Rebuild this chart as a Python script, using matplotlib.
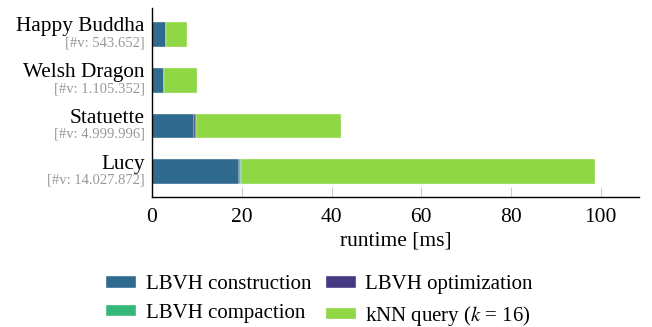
import matplotlib
matplotlib.use('Agg')
import matplotlib.pyplot as plt
import matplotlib.transforms as mtransforms

plt.rcParams['font.family'] = ['Liberation Serif', 'DejaVu Serif']
plt.rcParams['mathtext.fontset'] = 'stix'

# data
models = ['Happy Buddha', 'Welsh Dragon', 'Statuette', 'Lucy']
vertices = ['[#v: 543.652]', '[#v: 1.105.352]', '[#v: 4.999.996]', '[#v: 14.027.872]']
construction = [3.1, 2.6, 9.4, 19.3]
optimization = [0.05, 0.05, 0.3, 0.3]
compaction = [0.05, 0.05, 0.2, 0.2]
knn = [4.5, 7.4, 32.2, 79.0]

series_names = ['LBVH construction', 'LBVH optimization', 'LBVH compaction', r'kNN query ($k$ = 16)']
colors = ['#306a8e', '#443983', '#35b779', '#8fd744']

fig = plt.figure(figsize=(6.52, 3.27), dpi=100)
ax = fig.add_axes([152 / 652, 1 - 197 / 327, (639 - 152) / 652, (197 - 8) / 327])

ypos = [3, 2, 1, 0]
left = [0] * len(models)
bars = []
for vals, name, c in zip([construction, optimization, compaction, knn], series_names, colors):
    b = ax.barh(ypos, vals, left=left, height=0.54, color=c, label=name,
                edgecolor='#f4f4f4', linewidth=0.3)
    bars.append(b)
    left = [l + v for l, v in zip(left, vals)]

ax.set_xlim(0, 108.5)
ax.set_ylim(-0.55, 3.58)
ax.set_xticks([0, 20, 40, 60, 80, 100])
ax.set_yticks([])
ax.tick_params(axis='x', direction='in', length=7, color='#cccccc', labelsize=15.5, pad=8)
for s in ['top', 'right']:
    ax.spines[s].set_visible(False)
ax.spines['left'].set_linewidth(1.0)
ax.spines['bottom'].set_linewidth(1.0)
ax.set_xlabel('runtime [ms]', fontsize=15.5, labelpad=3)

# two-line category labels
trans = mtransforms.blended_transform_factory(ax.transAxes, ax.transData)
for y, m, v in zip(ypos, models, vertices):
    ax.text(-0.015, y + 0.17, m, transform=trans, ha='right', va='center', fontsize=15.3)
    ax.text(-0.015, y - 0.18, v, transform=trans, ha='right', va='center', fontsize=10.5,
            color='#999999')

# legend filled by columns: row 1 construction/optimization, row 2 compaction/kNN
order = [0, 2, 1, 3]
fig.legend([bars[i] for i in order], [series_names[i] for i in order],
           loc='lower center', bbox_to_anchor=(0.49, -0.06), ncol=2, frameon=False,
           fontsize=15, handlelength=1.45, handleheight=0.5, columnspacing=0.7,
           handletextpad=0.45, labelspacing=0.45)

fig.savefig('out.png', dpi=100)
